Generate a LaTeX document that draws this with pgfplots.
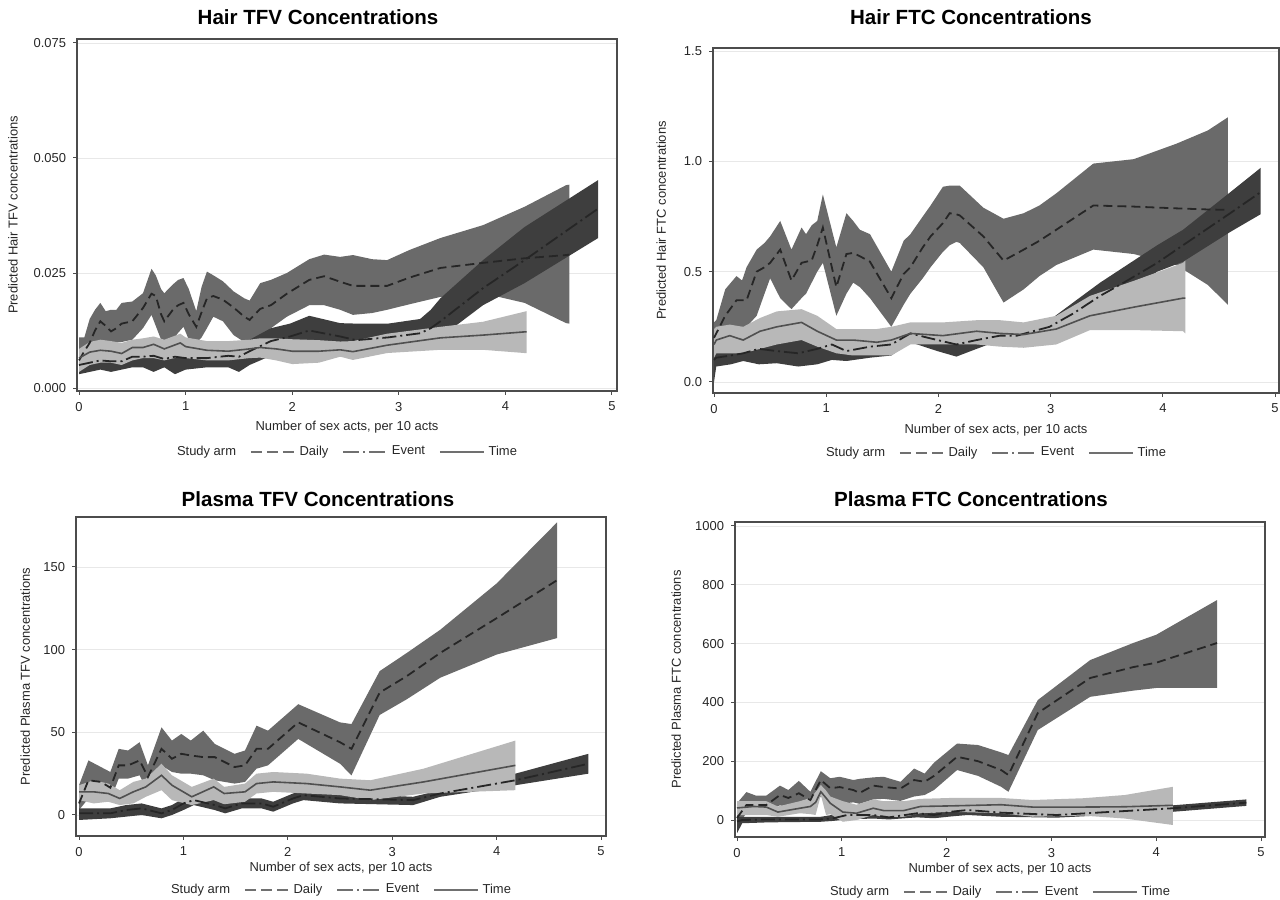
\documentclass[border=0pt]{standalone}
\usepackage{fontspec}
\setmainfont{Liberation Sans}
\usepackage{pgfplots}
\pgfplotsset{compat=1.18}
\usepackage{pgfplotstable}
\usepgfplotslibrary{fillbetween}

\definecolor{bandD}{HTML}{6A6A6A}
\definecolor{bandE}{HTML}{3E3E3E}
\definecolor{bandT}{HTML}{B8B8B8}
\definecolor{lineD}{HTML}{262626}
\definecolor{lineE}{HTML}{262626}
\definecolor{lineT}{HTML}{505050}
\definecolor{legC}{HTML}{707070}

% ---------- Hair TFV ----------
\pgfplotstableread{
x lo mid hi
0.00 0.0060 0.0060 0.0110
0.05 0.0065 0.0080 0.0110
0.10 0.0095 0.0098 0.0150
0.15 0.0098 0.0125 0.0170
0.20 0.0100 0.0145 0.0185
0.25 0.0100 0.0135 0.0167
0.30 0.0100 0.0123 0.0170
0.35 0.0100 0.0130 0.0170
0.40 0.0100 0.0140 0.0185
0.50 0.0105 0.0145 0.0188
0.60 0.0130 0.0174 0.0206
0.68 0.0159 0.0205 0.0259
0.72 0.0135 0.0200 0.0245
0.77 0.0105 0.0160 0.0215
0.80 0.0102 0.0145 0.0206
0.88 0.0105 0.0170 0.0225
0.93 0.0120 0.0180 0.0235
0.98 0.0133 0.0185 0.0239
1.03 0.0105 0.0160 0.0215
1.10 0.0098 0.0133 0.0167
1.15 0.0110 0.0165 0.0220
1.20 0.0130 0.0195 0.0253
1.26 0.0155 0.0200 0.0245
1.35 0.0145 0.0192 0.0232
1.45 0.0115 0.0175 0.0210
1.55 0.0100 0.0155 0.0195
1.60 0.0095 0.0148 0.0190
1.70 0.0110 0.0172 0.0228
1.80 0.0130 0.0180 0.0235
1.95 0.0155 0.0205 0.0250
2.16 0.0180 0.0235 0.0280
2.30 0.0180 0.0243 0.0290
2.45 0.0170 0.0231 0.0285
2.57 0.0159 0.0222 0.0289
2.75 0.0163 0.0222 0.0280
2.89 0.0170 0.0222 0.0278
3.10 0.0182 0.0240 0.0300
3.39 0.0198 0.0261 0.0326
3.79 0.0206 0.0272 0.0354
4.18 0.0185 0.0282 0.0394
4.57 0.0141 0.0289 0.0441
4.60 0.0140 0.0290 0.0442
}\tAD
\pgfplotstableread{
x lo mid hi
0.00 0.0030 0.0050 0.0075
0.10 0.0035 0.0055 0.0080
0.20 0.0040 0.0060 0.0085
0.30 0.0035 0.0058 0.0080
0.40 0.0040 0.0058 0.0080
0.50 0.0045 0.0068 0.0088
0.60 0.0045 0.0068 0.0090
0.70 0.0035 0.0070 0.0090
0.80 0.0045 0.0063 0.0085
0.90 0.0030 0.0068 0.0090
1.00 0.0040 0.0065 0.0095
1.20 0.0045 0.0065 0.0095
1.40 0.0045 0.0070 0.0098
1.50 0.0035 0.0068 0.0095
1.60 0.0050 0.0080 0.0105
1.80 0.0070 0.0102 0.0130
1.98 0.0080 0.0112 0.0140
2.16 0.0085 0.0125 0.0157
2.45 0.0085 0.0112 0.0141
2.60 0.0085 0.0104 0.0140
2.90 0.0085 0.0110 0.0140
3.20 0.0088 0.0119 0.0150
3.30 0.0095 0.0130 0.0170
3.39 0.0110 0.0145 0.0195
3.79 0.0180 0.0217 0.0278
4.18 0.0228 0.0278 0.0350
4.87 0.0326 0.0390 0.0452
}\tAE
\pgfplotstableread{
x lo mid hi
0.00 0.0035 0.0065 0.0085
0.10 0.0050 0.0078 0.0100
0.20 0.0055 0.0082 0.0105
0.30 0.0055 0.0080 0.0102
0.40 0.0050 0.0075 0.0098
0.50 0.0060 0.0088 0.0105
0.60 0.0065 0.0088 0.0108
0.70 0.0065 0.0095 0.0112
0.80 0.0060 0.0085 0.0105
0.95 0.0068 0.0098 0.0118
1.00 0.0065 0.0090 0.0110
1.20 0.0060 0.0082 0.0102
1.40 0.0060 0.0080 0.0102
1.60 0.0065 0.0085 0.0105
1.70 0.0066 0.0088 0.0108
1.85 0.0060 0.0085 0.0108
2.00 0.0052 0.0080 0.0106
2.25 0.0055 0.0080 0.0104
2.45 0.0068 0.0083 0.0101
2.57 0.0061 0.0079 0.0102
2.89 0.0076 0.0093 0.0118
3.39 0.0083 0.0109 0.0133
3.79 0.0083 0.0115 0.0144
4.18 0.0076 0.0122 0.0166
4.20 0.0076 0.0122 0.0167
}\tAT

% ---------- Hair FTC ----------
\pgfplotstableread{
x lo mid hi
0.00 0.17 0.20 0.27
0.02 0.19 0.22 0.28
0.10 0.22 0.30 0.42
0.20 0.24 0.37 0.48
0.25 0.25 0.37 0.46
0.29 0.25 0.37 0.52
0.38 0.30 0.50 0.60
0.45 0.40 0.52 0.63
0.50 0.47 0.54 0.66
0.59 0.38 0.60 0.73
0.69 0.33 0.46 0.60
0.78 0.38 0.54 0.70
0.82 0.40 0.545 0.67
0.87 0.45 0.55 0.71
0.92 0.50 0.62 0.73
0.97 0.54 0.70 0.85
1.09 0.30 0.43 0.61
1.18 0.40 0.58 0.765
1.24 0.45 0.585 0.73
1.30 0.43 0.57 0.69
1.39 0.38 0.545 0.67
1.58 0.25 0.38 0.50
1.69 0.35 0.49 0.64
1.75 0.40 0.52 0.67
1.86 0.47 0.61 0.75
1.93 0.52 0.66 0.80
2.04 0.59 0.72 0.885
2.10 0.62 0.765 0.89
2.16 0.635 0.76 0.89
2.19 0.63 0.755 0.89
2.40 0.52 0.66 0.79
2.58 0.36 0.55 0.74
2.76 0.42 0.60 0.765
2.90 0.48 0.64 0.80
3.05 0.53 0.69 0.855
3.38 0.60 0.80 0.99
3.74 0.58 0.795 1.01
4.12 0.53 0.787 1.08
4.40 0.44 0.782 1.14
4.58 0.35 0.78 1.20
}\tBD
\pgfplotstableread{
x lo mid hi
0.00 0.00 0.10 0.16
0.02 0.07 0.11 0.17
0.15 0.08 0.12 0.18
0.26 0.095 0.13 0.19
0.40 0.08 0.15 0.20
0.56 0.085 0.14 0.21
0.75 0.07 0.13 0.20
0.92 0.08 0.15 0.19
1.05 0.10 0.17 0.19
1.18 0.095 0.14 0.17
1.39 0.11 0.16 0.19
1.58 0.12 0.17 0.20
1.75 0.18 0.22 0.23
1.99 0.14 0.19 0.21
2.16 0.115 0.17 0.19
2.34 0.15 0.19 0.21
2.55 0.19 0.21 0.23
2.70 0.19 0.21 0.24
2.99 0.22 0.25 0.28
3.20 0.26 0.31 0.36
3.44 0.33 0.39 0.45
3.65 0.39 0.45 0.52
3.95 0.50 0.54 0.62
4.18 0.545 0.62 0.69
4.60 0.68 0.765 0.86
4.87 0.76 0.86 0.97
}\tBE
\pgfplotstableread{
x lo mid hi
0.00 0.11 0.17 0.24
0.02 0.13 0.19 0.25
0.14 0.13 0.21 0.26
0.26 0.13 0.19 0.25
0.41 0.15 0.23 0.29
0.56 0.17 0.25 0.32
0.78 0.19 0.27 0.33
0.92 0.16 0.23 0.30
1.09 0.13 0.19 0.24
1.24 0.12 0.19 0.24
1.45 0.12 0.18 0.24
1.58 0.12 0.19 0.25
1.75 0.17 0.22 0.27
2.04 0.17 0.21 0.27
2.34 0.17 0.23 0.28
2.55 0.16 0.22 0.28
2.76 0.155 0.215 0.27
3.05 0.17 0.24 0.30
3.35 0.235 0.30 0.39
3.75 0.235 0.34 0.46
4.18 0.23 0.38 0.54
4.20 0.22 0.38 0.55
}\tBT

% ---------- Plasma TFV ----------
\pgfplotstableread{
x lo mid hi
0.00 3 7 18
0.09 10 21 33
0.21 11 20 29
0.30 9 16.5 26
0.38 22 30 40
0.47 22 30 39
0.58 24 33 44
0.66 14 23 30
0.79 30 40 53
0.89 26 34 45
0.98 25 37 49
1.07 25 36 45
1.19 24 35 51
1.30 21 35 43
1.49 19 29 37
1.59 20 30 39
1.70 28 40 54
1.81 30 40 51
2.10 46 56 67
2.50 31 44 56
2.61 24 40 55
2.88 60.5 74 87
3.14 70 84 98
3.46 83 98 112
4.00 97 119 140
4.58 107 142 177
}\tCD
\pgfplotstableread{
x lo mid hi
0.00 -3 1 4
0.30 -2 1 4
0.45 -1 3 6
0.60 0 4 7
0.79 -2 1 4
0.89 0 3 6
1.00 3 7 10
1.10 6 9 12
1.30 3 6 9
1.40 1 4 7
1.56 4 7 10
1.75 4 7 10
1.86 2 5 8
2.05 7 10 13
2.15 9 12 15
2.50 7 10 13
3.20 6 9 11
3.46 11 13 15
4.18 18 21 25
4.88 25 31 37
}\tCE
\pgfplotstableread{
x lo mid hi
0.00 9 14 18
0.14 7 14 21
0.28 8 13 19
0.39 6 10 15
0.52 7 14 20
0.64 11 17 22
0.79 15 24 31
0.89 9 18 24
1.08 6 11 17
1.29 9 17 22
1.39 6.5 13 17
1.59 8 14 19
1.70 13 19 25
1.86 14 20 26
2.18 13 19 25
2.50 12 17 22
2.79 9 15 21
3.30 13 20 28
4.18 15 30 45
}\tCT

% ---------- Plasma FTC ----------
\pgfplotstableread{
x lo mid hi
0.00 -20 7 57
0.09 23 51 95
0.18 25 51 83
0.28 30 51 83
0.41 50 85 117
0.49 42 75 102
0.59 55 91 133
0.70 38 68 96
0.80 80 136 166
0.89 55 108 142
0.98 55 112 147
1.11 60 102 136
1.17 55 92 140
1.30 70 117 145
1.40 72 112 147
1.56 65 107 130
1.69 80 136 175
1.79 85 130 158
1.88 102 150 195
2.10 170 215 260
2.30 150 200 255
2.52 113 170 230
2.59 96 153 221
2.87 306 364 408
3.37 419 483 544
3.78 440 520 602
4.00 449 535 630
4.58 449 602 748
}\tDD
\pgfplotstableread{
x lo mid hi
0.00 -45 -5 11
0.05 -11 0 11
0.30 -8 2 11
0.80 -6 2 11
0.92 -3 6 18
1.05 2 17 28
1.30 5 17 30
1.45 2 9 24
1.72 9 23 34
1.88 6 17 25
2.04 12 28 40
2.20 17 34 48
2.52 11 25 40
3.05 8 17 30
4.16 28 40 50
4.86 48 59 70
}\tDE
\pgfplotstableread{
x lo mid hi
0.00 17 41 64
0.16 17 46 64
0.28 17 44 64
0.39 11 27 46
0.60 23 40 64
0.70 20 46 75
0.75 17 60 95
0.80 85 96 119
0.85 17 75 100
0.89 20 57 80
1.01 -6 27 64
1.14 0 23 52
1.30 17 40 70
1.40 11 32 64
1.59 11 32 64
1.75 23 46 72
2.04 28 48 75
2.52 23 52 75
2.82 11 44 68
3.30 15 44 74
3.70 5 45 85
4.16 -17 50 113
}\tDT

\newcommand{\drawbands}[3]{%
  \addplot[draw=none, name path=du, forget plot] table[x=x,y=hi]{#1};
  \addplot[draw=none, name path=dl, forget plot] table[x=x,y=lo]{#1};
  \addplot[fill=bandD, draw=none, forget plot] fill between[of=du and dl];
  \addplot[draw=none, name path=eu, forget plot] table[x=x,y=hi]{#2};
  \addplot[draw=none, name path=el, forget plot] table[x=x,y=lo]{#2};
  \addplot[fill=bandE, draw=none, forget plot] fill between[of=eu and el];
  \addplot[draw=none, name path=tu, forget plot] table[x=x,y=hi]{#3};
  \addplot[draw=none, name path=tl, forget plot] table[x=x,y=lo]{#3};
  \addplot[fill=bandT, draw=none, forget plot] fill between[of=tu and tl];
  \addplot[lineD, line width=0.9bp, dash pattern=on 4.5bp off 2.5bp, forget plot] table[x=x,y=mid]{#1};
  \addplot[lineE, line width=0.9bp, dash pattern=on 7bp off 2bp on 1bp off 2bp, forget plot] table[x=x,y=mid]{#2};
  \addplot[lineT, line width=0.8bp, forget plot] table[x=x,y=mid]{#3};
  \addlegendimage{empty legend}\addlegendentry{Study arm}
  \addlegendimage{legC, line width=0.8bp, dash pattern=on 5.5bp off 2.5bp}\addlegendentry{Daily}
  \addlegendimage{legC, line width=0.8bp, dash pattern=on 8bp off 2bp on 1bp off 2bp}\addlegendentry{Event}
  \addlegendimage{legC, line width=0.8bp}\addlegendentry{Time}
}

\pgfplotsset{
  panel/.style={
    scale only axis, anchor=south west,
    axis line style={draw=black!70, line width=0.6bp},
    tick style={draw=black!70, line width=0.5bp},
    tick align=outside, major tick length=2bp,
    tick pos=left,
    ymajorgrids, grid style={draw=black!9, line width=0.4bp},
    xtick={0,1,2,3,4,5},
    ticklabel style={font=\fontsize{6.5}{7}\selectfont, text=black!85},
    /pgf/number format/assume math mode=true,
    /pgf/number format/1000 sep={},
    label style={font=\fontsize{6.5}{7}\selectfont, text=black!85},
    xlabel={Number of sex acts, per 10 acts},
    legend style={draw=none, fill=none, legend columns=4,
      font=\fontsize{6.5}{7}\selectfont, text=black!85,
      /tikz/every even column/.append style={column sep=5bp}},
    legend cell align=left,
    legend image code/.code={\draw[##1] (0bp,0bp) -- (22bp,0bp);},
  }
}

\begin{document}
\begin{tikzpicture}

\node[font=\bfseries\fontsize{10.3}{12}\selectfont] at (159bp,441.5bp) {Hair TFV Concentrations};
\node[font=\bfseries\fontsize{10.3}{12}\selectfont] at (485.5bp,441.5bp) {Hair FTC Concentrations};
\node[font=\bfseries\fontsize{10.3}{12}\selectfont] at (159bp,200.5bp) {Plasma TFV Concentrations};
\node[font=\bfseries\fontsize{10.3}{12}\selectfont] at (485.5bp,200.5bp) {Plasma FTC Concentrations};

% Panel A
\begin{axis}[panel, at={(38.5bp,254.5bp)}, width=270bp, height=176bp,
  xmin=-0.019, xmax=5.047, ymin=-0.00065, ymax=0.07587,
  ytick={0,0.025,0.05,0.075}, scaled y ticks=false,
  yticklabel style={/pgf/number format/.cd, fixed, fixed zerofill, precision=3},
  ylabel={Predicted Hair TFV concentrations},
  xlabel style={at={(axis description cs:0.5,-0.102)}, anchor=center},
  ylabel style={at={(axis description cs:-0.1185,0.5)}, anchor=center},
  legend style={at={(0.5,-0.173)}, anchor=center}]
\drawbands{\tAD}{\tAE}{\tAT}
\end{axis}

% Panel B
\begin{axis}[panel, at={(356.5bp,253.5bp)}, width=283bp, height=172.5bp,
  xmin=-0.009, xmax=5.035, ymin=-0.05, ymax=1.514,
  ytick={0,0.5,1,1.5},
  yticklabel style={/pgf/number format/.cd, fixed, fixed zerofill, precision=1},
  ylabel={Predicted Hair FTC concentrations},
  xlabel style={at={(axis description cs:0.5,-0.107)}, anchor=center},
  ylabel style={at={(axis description cs:-0.0915,0.5)}, anchor=center},
  legend style={at={(0.5,-0.174)}, anchor=center}]
\drawbands{\tBD}{\tBE}{\tBT}
\end{axis}

% Panel C
\begin{axis}[panel, at={(38bp,32bp)}, width=265bp, height=159.5bp,
  xmin=-0.029, xmax=5.048, ymin=-12.7, ymax=180.2,
  ytick={0,50,100,150},
  ylabel={Predicted Plasma TFV concentrations},
  xlabel style={at={(axis description cs:0.5,-0.100)}, anchor=center},
  ylabel style={at={(axis description cs:-0.096,0.5)}, anchor=center},
  legend style={at={(0.5,-0.169)}, anchor=center}]
\drawbands{\tCD}{\tCE}{\tCT}
\end{axis}

% Panel D
\begin{axis}[panel, at={(367.5bp,31.5bp)}, width=265bp, height=157.5bp,
  xmin=-0.019, xmax=5.038, ymin=-57.8, ymax=1013.6,
  ytick={0,200,400,600,800,1000},
  ylabel={Predicted Plasma FTC concentrations},
  xlabel style={at={(axis description cs:0.5,-0.102)}, anchor=center},
  ylabel style={at={(axis description cs:-0.111,0.5)}, anchor=center},
  legend style={at={(0.5,-0.175)}, anchor=center}]
\drawbands{\tDD}{\tDE}{\tDT}
\end{axis}
\pgfresetboundingbox
\path[use as bounding box] (0,0) rectangle (640bp,450bp);
\end{tikzpicture}
\end{document}
